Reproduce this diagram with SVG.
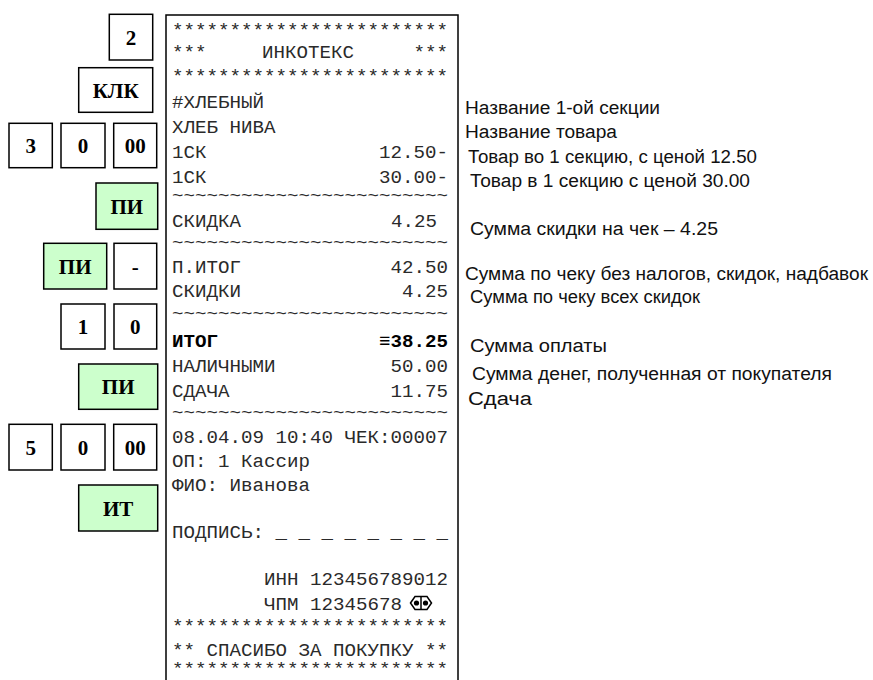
<svg xmlns="http://www.w3.org/2000/svg" width="873" height="680" viewBox="0 0 873 680">
<style>
.key{fill:#ffffff;stroke:#000000;stroke-width:1.5}
.keyg{fill:#ccffcc;stroke:#000000;stroke-width:1.5}
.kt{font-family:"Liberation Serif","Times New Roman",serif;font-weight:bold;font-size:21px;fill:#000000;text-anchor:middle}
.r{font-family:"Liberation Mono","Courier New",monospace;font-size:19.17px;fill:#2a2a2a}
.re{font-family:"Liberation Mono","Courier New",monospace;font-size:19.17px;fill:#2a2a2a;text-anchor:end}
.t{font-family:"Liberation Mono","Courier New",monospace;font-size:16px;fill:#2a2a2a}
.b{font-weight:bold;fill:#000000}
.n{font-family:"Liberation Sans",Arial,sans-serif;font-size:18px;fill:#111111}
</style>
<rect width="873" height="680" fill="#ffffff"/>
<g id="connectors"/>
<g id="key-2"><rect class="key" x="109.3" y="14.3" width="43.4" height="45.7"/><text class="kt" x="131" y="44.5">2</text></g>
<g id="key-klk"><rect class="key" x="78.7" y="67.7" width="74" height="44.6"/><text class="kt" x="115.7" y="97.5">КЛК</text></g>
<g id="key-3"><rect class="key" x="9" y="123.3" width="43.3" height="44.4"/><text class="kt" x="30.7" y="153">3</text></g>
<g id="key-0a"><rect class="key" x="61" y="123.3" width="44" height="44.4"/><text class="kt" x="83" y="153">0</text></g>
<g id="key-00a"><rect class="key" x="113.7" y="123.3" width="43" height="44.4"/><text class="kt" x="135.2" y="153">00</text></g>
<g id="key-pi1"><rect class="keyg" x="96" y="183" width="61.7" height="46.3"/><text class="kt" x="126.8" y="213.5">ПИ</text></g>
<g id="key-pi2"><rect class="keyg" x="43.7" y="243.3" width="63" height="45.7"/><text class="kt" x="75.2" y="273.5">ПИ</text></g>
<g id="key-minus"><rect class="key" x="114" y="243.3" width="42.7" height="45.7"/><text class="kt" x="135.3" y="273.5">-</text></g>
<g id="key-1"><rect class="key" x="61" y="304" width="44" height="45"/><text class="kt" x="83" y="334">1</text></g>
<g id="key-0b"><rect class="key" x="114" y="304" width="42.7" height="45"/><text class="kt" x="135.3" y="334">0</text></g>
<g id="key-pi3"><rect class="keyg" x="78.7" y="364" width="79" height="45.3"/><text class="kt" x="118.2" y="394">ПИ</text></g>
<g id="key-5"><rect class="key" x="9" y="424.3" width="43.3" height="45.7"/><text class="kt" x="30.7" y="454.5">5</text></g>
<g id="key-0c"><rect class="key" x="61" y="424.3" width="44" height="45.7"/><text class="kt" x="83" y="454.5">0</text></g>
<g id="key-00b"><rect class="key" x="113.7" y="424.3" width="43" height="45.7"/><text class="kt" x="135.2" y="454.5">00</text></g>
<g id="key-it"><rect class="keyg" x="78.7" y="485" width="79" height="46"/><text class="kt" x="118.2" y="515.5">ИТ</text></g>
<g id="receipt">
<rect x="166" y="15" width="292" height="680" fill="#ffffff" stroke="#000000" stroke-width="1.5"/>
<text class="r" x="172" y="36">************************</text>
<text class="r" x="172" y="58">***</text><text class="r" x="262" y="58">ИНКОТЕКС</text><text class="r" x="413.5" y="58">***</text>
<text class="r" x="172" y="82">************************</text>
<text class="r" x="172" y="108">#ХЛЕБНЫЙ</text>
<text class="r" x="172" y="133">ХЛЕБ НИВА</text>
<text class="r" x="172" y="158">1СК</text><text class="re" x="448" y="158">12.50-</text>
<text class="r" x="172" y="183">1СК</text><text class="re" x="448" y="183">30.00-</text>
<text class="t" x="172" y="201" textLength="276" lengthAdjust="spacingAndGlyphs">~~~~~~~~~~~~~~~~~~~~~~~~</text>
<text class="r" x="172" y="227">СКИДКА</text><text class="re" x="437" y="227">4.25</text>
<text class="t" x="172" y="248" textLength="276" lengthAdjust="spacingAndGlyphs">~~~~~~~~~~~~~~~~~~~~~~~~</text>
<text class="r" x="172" y="273">П.ИТОГ</text><text class="re" x="448" y="273">42.50</text>
<text class="r" x="172" y="297">СКИДКИ</text><text class="re" x="448" y="297">4.25</text>
<text class="t" x="172" y="319" textLength="276" lengthAdjust="spacingAndGlyphs">~~~~~~~~~~~~~~~~~~~~~~~~</text>
<text class="r b" x="172" y="347">ИТОГ</text><text class="re b" x="448" y="347">≡38.25</text>
<text class="r" x="172" y="372">НАЛИЧНЫМИ</text><text class="re" x="448" y="372">50.00</text>
<text class="r" x="172" y="397">СДАЧА</text><text class="re" x="448" y="397">11.75</text>
<text class="t" x="172" y="418" textLength="276" lengthAdjust="spacingAndGlyphs">~~~~~~~~~~~~~~~~~~~~~~~~</text>
<text class="r" x="172" y="443">08.04.09 10:40 ЧЕК:00007</text>
<text class="r" x="172" y="467">ОП: 1 Кассир</text>
<text class="r" x="172" y="491">ФИО: Иванова</text>
<text class="r" x="172" y="538">ПОДПИСЬ:</text><text class="r" x="275.5" y="538">_ _ _ _ _ _ _ _</text>
<text class="re" x="448" y="585">ИНН 123456789012</text>
<text class="r" x="264" y="610">ЧПМ 12345678</text>
<g fill="none" stroke="#000000" stroke-width="1.5">
<path d="M410.5,603 L415,596.5 L427,596.5 L431.5,603 L427,609.5 L415,609.5 Z"/>
<line x1="421" y1="596.5" x2="421" y2="609.5"/>
</g>
<circle cx="416.5" cy="603" r="2.6" fill="#000000"/>
<circle cx="425.5" cy="603" r="2.6" fill="#000000"/>
<text class="r" x="172" y="632">************************</text>
<text class="r" x="172" y="656">** СПАСИБО ЗА ПОКУПКУ **</text>
<text class="t" x="172" y="674" textLength="276" lengthAdjust="spacingAndGlyphs">************************</text>
</g>
<g id="notes">
<text class="n" x="465" y="114" textLength="195" lengthAdjust="spacingAndGlyphs">Название 1-ой секции</text>
<text class="n" x="465" y="138" textLength="152" lengthAdjust="spacingAndGlyphs">Название товара</text>
<text class="n" x="468" y="163" textLength="289" lengthAdjust="spacingAndGlyphs">Товар во 1 секцию, с ценой 12.50</text>
<text class="n" x="470" y="187" textLength="280" lengthAdjust="spacingAndGlyphs">Товар в 1 секцию с ценой 30.00</text>
<text class="n" x="470" y="235" textLength="248" lengthAdjust="spacingAndGlyphs">Сумма скидки на чек – 4.25</text>
<text class="n" x="465" y="280" textLength="403" lengthAdjust="spacingAndGlyphs">Сумма по чеку без налогов, скидок, надбавок</text>
<text class="n" x="470" y="303" textLength="230" lengthAdjust="spacingAndGlyphs">Сумма по чеку всех скидок</text>
<text class="n" x="470" y="352" textLength="137" lengthAdjust="spacingAndGlyphs">Сумма оплаты</text>
<text class="n" x="472" y="380" textLength="360" lengthAdjust="spacingAndGlyphs">Сумма денег, полученная от покупателя</text>
<text class="n" x="468" y="405" textLength="64" lengthAdjust="spacingAndGlyphs">Сдача</text>
</g>
</svg>
